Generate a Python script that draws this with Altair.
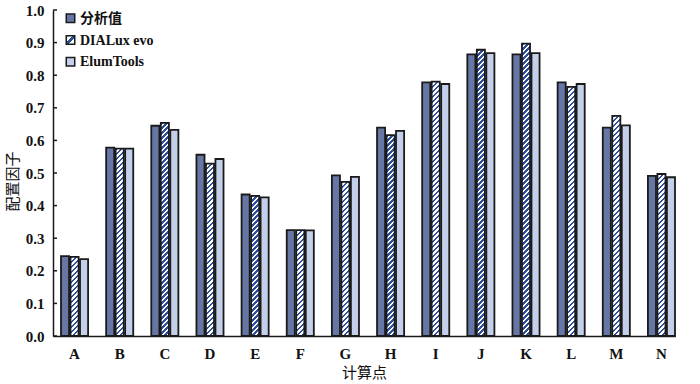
import altair as alt
import pandas as pd

# ---------------- data ----------------
cats = list("ABCDEFGHIJKLMN")
series_names = ["分析值", "DIALux evo", "ElumTools"]
analysis = [0.245, 0.578, 0.645, 0.556, 0.434, 0.325, 0.493, 0.639, 0.778, 0.864, 0.864, 0.778, 0.639, 0.491]
dialux = [0.243, 0.575, 0.654, 0.529, 0.430, 0.325, 0.473, 0.616, 0.780, 0.878, 0.897, 0.764, 0.675, 0.497]
elum = [0.236, 0.575, 0.632, 0.543, 0.425, 0.324, 0.488, 0.629, 0.773, 0.868, 0.868, 0.773, 0.646, 0.487]
y_ticks = [0.0, 0.1, 0.2, 0.3, 0.4, 0.5, 0.6, 0.7, 0.8, 0.9, 1.0]

rows = []
for s, vals in zip(series_names, [analysis, dialux, elum]):
    for c, v in zip(cats, vals):
        rows.append({"cat": c, "series": s, "value": v})
df = pd.DataFrame(rows)
tick_df = pd.DataFrame({"tick": y_ticks})
legend_df = pd.DataFrame({"series": series_names})

# ---------------- layout / style ----------------
W, H = 622, 326
PAD_IN = 0.40
OUTER_PX = 8
step = (W - OUTER_PX) / (len(cats) - PAD_IN)
PAD_OUT = (OUTER_PX / 2) / step
band = step * (1 - PAD_IN)
OFF_PAD = 0.15
bar_w = band / (3 - OFF_PAD) * (1 - OFF_PAD)

C_ANALYSIS = "#6677a6"
C_STRIPE = "#2d4f9e"
C_ELUM = "#c4d0e9"
STROKE = "#1a1a1a"
BAR_SW = 1.8
FONT = "Liberation Serif, Noto Sans CJK SC"
CJK = "Noto Sans CJK SC"


def stripe_gradient(v, period=5.0):
    """diagonal '/' stripes at 45 degrees inside a bar of value v"""
    h = max(v * H, 1.0)
    w = bar_w
    a = w / h
    s = (w + h) / (h * (1 + a * a))
    T = period / (w + h)
    stops = []
    t = 0.0
    while t < 1.0:
        t1 = min(t + T / 2, 1.0)
        t2 = min(t + T, 1.0)
        stops += [
            {"offset": round(t, 5), "color": C_STRIPE},
            {"offset": round(t1, 5), "color": C_STRIPE},
            {"offset": round(t1, 5), "color": "#ffffff"},
            {"offset": round(t2, 5), "color": "#ffffff"},
        ]
        t += T
    return {"gradient": "linear", "x1": 0, "y1": 0, "x2": round(a * s, 5), "y2": round(s, 5), "stops": stops}


conds = [
    {"test": f"datum.series === 'DIALux evo' && datum.cat === '{c}'", "value": stripe_gradient(v)}
    for c, v in zip(cats, dialux)
]

legend_grad = {
    "gradient": "linear", "x1": 0, "y1": 0, "x2": 1, "y2": 1,
    "stops": [
        {"offset": 0, "color": "#ffffff"}, {"offset": 0.36, "color": "#ffffff"},
        {"offset": 0.36, "color": C_STRIPE}, {"offset": 0.64, "color": C_STRIPE},
        {"offset": 0.64, "color": "#ffffff"}, {"offset": 1, "color": "#ffffff"},
    ],
}

x_enc = alt.X(
    "cat:N", sort=cats,
    scale=alt.Scale(paddingInner=PAD_IN, paddingOuter=PAD_OUT, align=1),
    axis=alt.Axis(
        title="计算点", labelAngle=0, ticks=False, grid=False,
        labelPadding=10, labelFont=FONT, labelFontSize=15, labelFontWeight="bold", labelColor="#111",
        titleFont=CJK, titleFontSize=15, titleFontWeight="normal", titleColor="#111",
        titleY=36, titleBaseline="middle",
        domainColor=STROKE, domainWidth=1.5,
    ),
)

y_scale = alt.Scale(domain=[0, 1], nice=False, zero=True)

bars = alt.Chart(df).mark_bar(stroke=STROKE, strokeWidth=BAR_SW).encode(
    x=x_enc,
    xOffset=alt.XOffset("series:N", sort=series_names,
                        scale=alt.Scale(paddingInner=OFF_PAD, paddingOuter=0)),
    y=alt.Y(
        "value:Q", scale=y_scale,
        axis=alt.Axis(
            values=y_ticks, format=".1f", ticks=False, grid=False,
            labelPadding=9, labelFont=FONT, labelFontSize=15, labelFontWeight="bold", labelColor="#111",
            title="配置因子", titleFont=CJK, titleFontSize=15, titleFontWeight="normal", titleColor="#111",
            titleX=-41, titleY=171, titleAngle=270, titleBaseline="middle", titleAlign="center",
            domainColor=STROKE, domainWidth=1.5,
        ),
    ),
    fill={
        "field": "series", "type": "nominal",
        "scale": {"domain": series_names, "range": [C_ANALYSIS, "#ffffff", C_ELUM]},
        "legend": None,
        "condition": conds,
    },
)

ticks = alt.Chart(tick_df).mark_rule(color=STROKE, strokeWidth=1.5).encode(
    y=alt.Y("tick:Q", scale=y_scale, axis=None),
    x=alt.value(0),
    x2=alt.value(4),
)

# legend built from the series list: rows placed by a point scale
leg_y = alt.Y("series:N", sort=series_names,
              scale=alt.Scale(type="point", range=[8.3, 51.7], padding=0), axis=None)

leg_sym = alt.Chart(legend_df).mark_square(size=72, stroke=STROKE, strokeWidth=1.5, opacity=1).encode(
    y=leg_y,
    x=alt.value(17.5),
    fill={
        "condition": [
            {"test": "datum.series === 'DIALux evo'", "value": legend_grad},
            {"test": "datum.series === '分析值'", "value": C_ANALYSIS},
        ],
        "value": C_ELUM,
    },
)

leg_txt = alt.Chart(legend_df).mark_text(
    align="left", baseline="middle", font=FONT, fontSize=14, fontWeight="bold", color="#111", dx=0, dy=0.5
).encode(
    y=leg_y,
    x=alt.value(27),
    text="series:N",
)

chart = alt.layer(bars, ticks, leg_sym, leg_txt).resolve_scale(y="independent").properties(
    width=W, height=H,
    autosize="none",
    padding={"left": 53, "top": 10, "right": 25, "bottom": 48},
    background="white",
).configure_view(stroke=None)

chart.save("out.html", embed_options={"renderer": "svg", "actions": False})
